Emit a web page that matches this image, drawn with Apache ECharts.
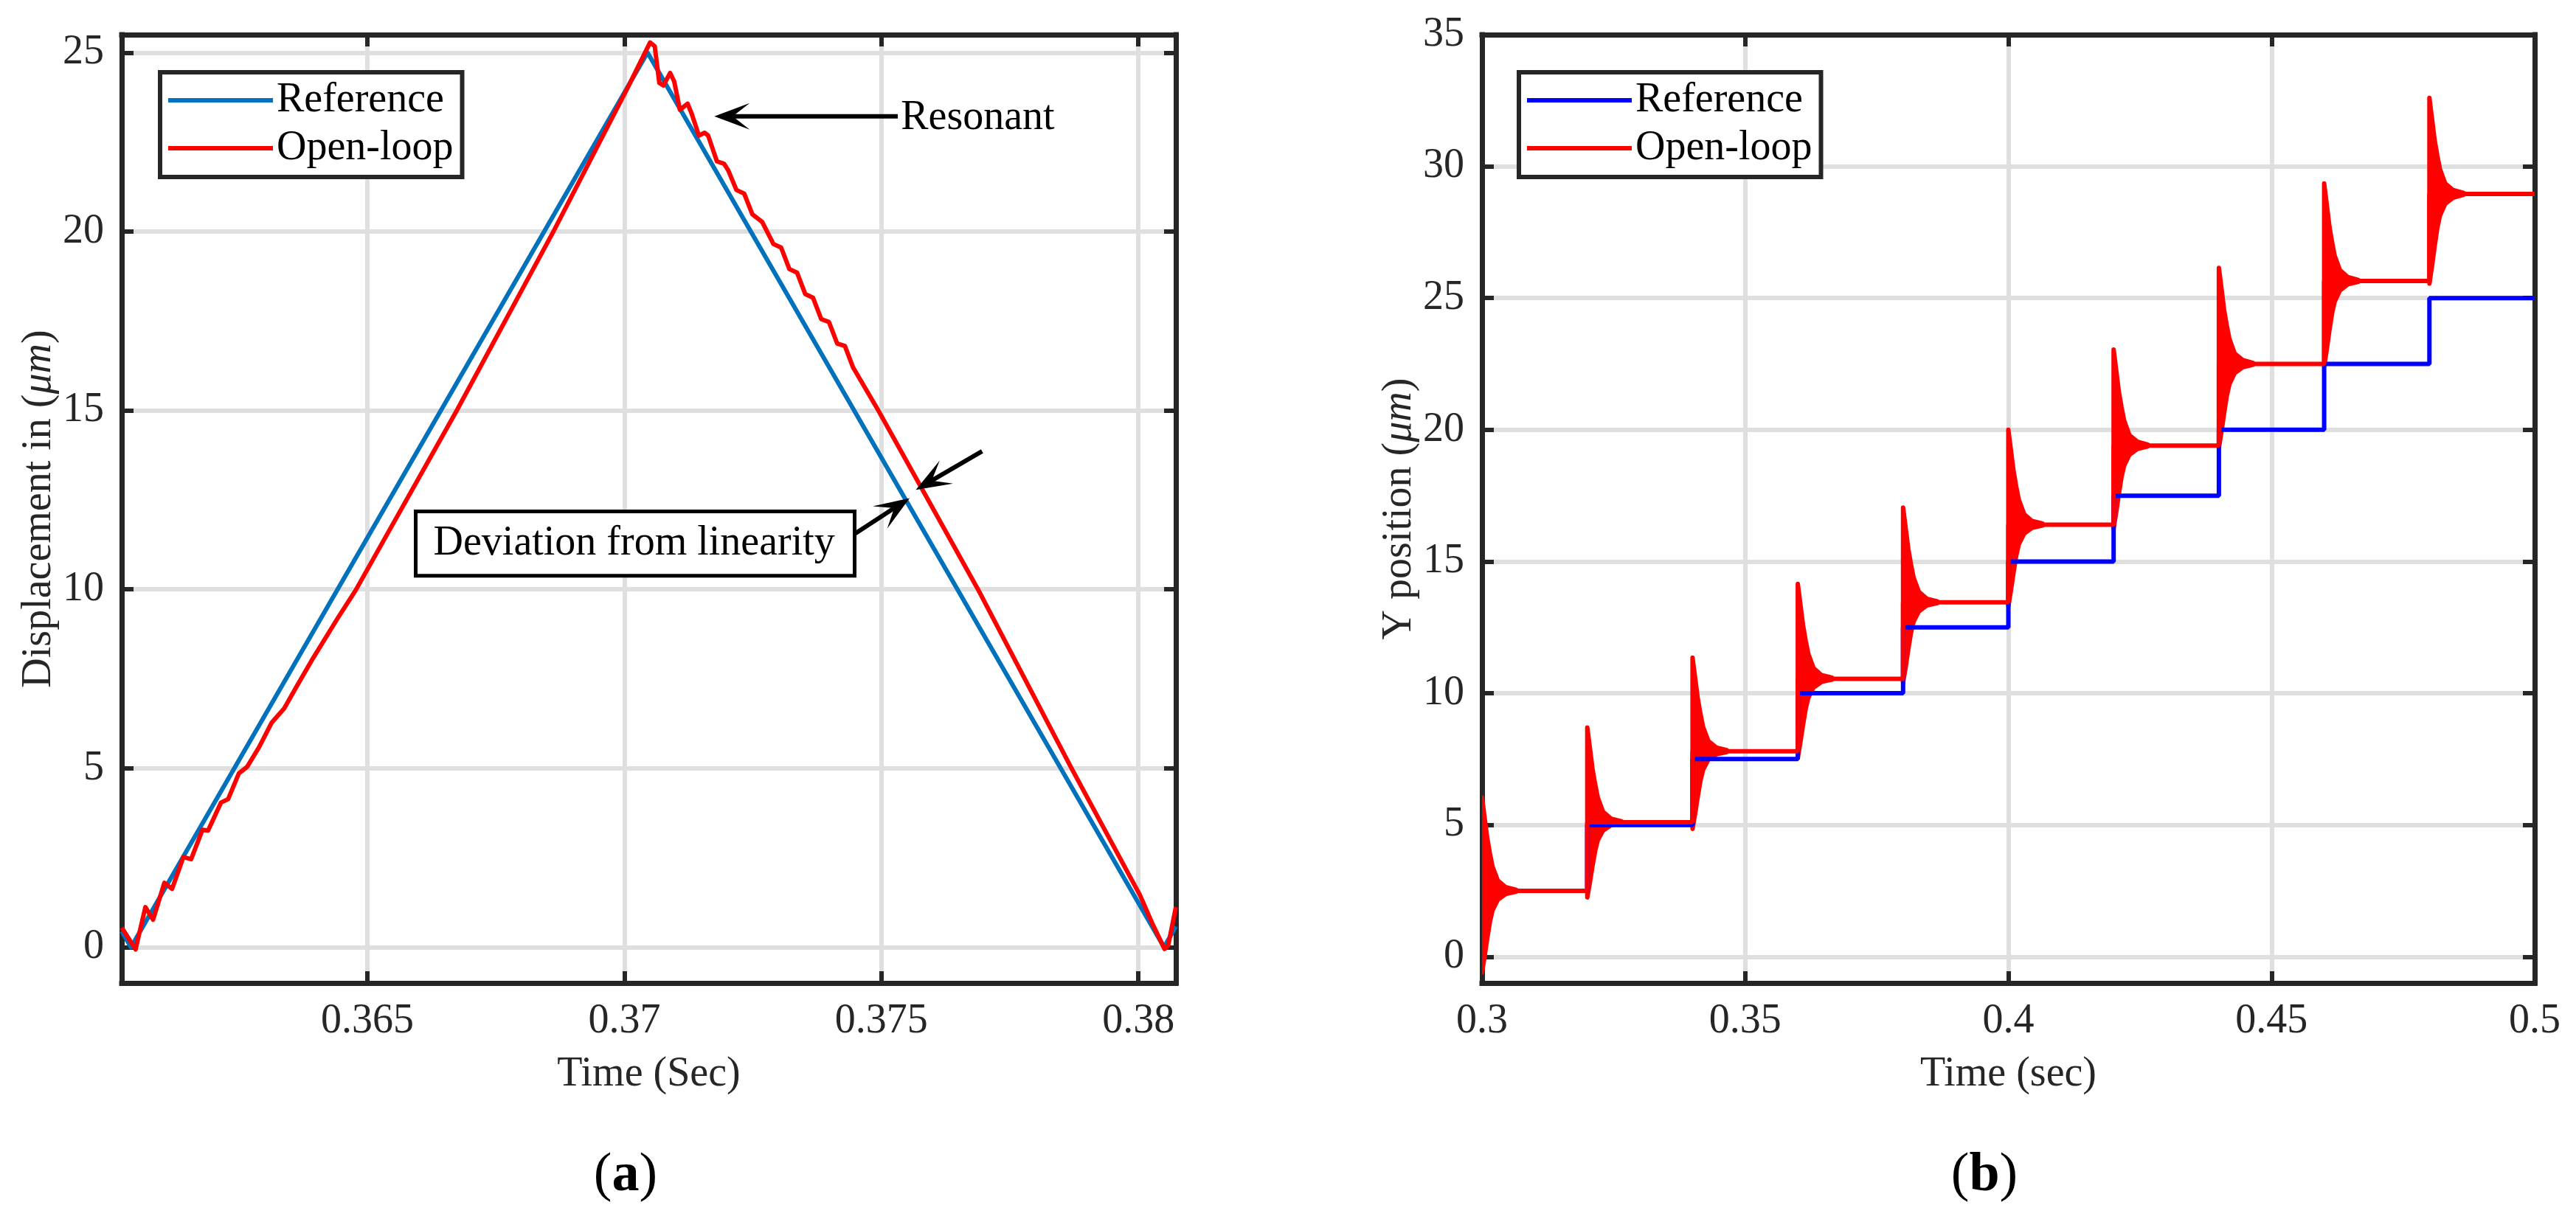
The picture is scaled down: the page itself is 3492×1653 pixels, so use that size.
<!DOCTYPE html>
<html>
<head>
<meta charset="utf-8">
<title>Reference vs open-loop</title>
<script src="https://cdn.jsdelivr.net/npm/echarts@6/dist/echarts.min.js"></script>
<style>
  html, body { margin: 0; padding: 0; background: #fff; }
  #chart { width: 3492px; height: 1653px; }
</style>
</head>
<body>
<div id="chart"></div>
<script>
const serif = '"Liberation Serif", "Times New Roman", serif';
const ink = '#262626';
const red = '#FF0000';

// (a) triangular scan
const refTimeA = [0.36022, 0.36040, 0.37045, 0.38050, 0.38073];
const refDispA = [0.45, 0, 25, 0, 0.58];
const olTimeA = [
  0.36022, 0.36049, 0.36068, 0.36083, 0.36105, 0.36120, 0.36142, 0.36157, 0.36179, 0.36190,
  0.36215, 0.36229, 0.36250, 0.36266, 0.36290, 0.36314, 0.36338, 0.36362, 0.36394, 0.36442,
  0.36477, 0.36674, 0.36862, 0.37005, 0.37050, 0.37059, 0.37068, 0.37076, 0.37089, 0.37097,
  0.37108, 0.37123, 0.37131, 0.37145, 0.37156, 0.37163, 0.37180, 0.37194, 0.37202, 0.37218,
  0.37233, 0.37249, 0.37268, 0.37290, 0.37305, 0.37321, 0.37336, 0.37352, 0.37367, 0.37383,
  0.37398, 0.37414, 0.37429, 0.37445, 0.37494, 0.37688, 0.37870, 0.38003, 0.38027, 0.38051,
  0.38058, 0.38073
];
const olDispA = [
  0.55, -0.06, 1.12, 0.77, 1.80, 1.63, 2.52, 2.46, 3.28, 3.26,
  4.04, 4.14, 4.86, 5.04, 5.61, 6.28, 6.67, 7.28, 8.07, 9.19,
  9.97, 15.0, 20.0, 23.98, 25.28, 25.18, 24.15, 24.08, 24.43, 24.19,
  23.40, 23.57, 23.29, 22.68, 22.76, 22.68, 21.96, 21.89, 21.71, 21.16,
  21.06, 20.48, 20.27, 19.65, 19.55, 18.95, 18.85, 18.25, 18.15, 17.55,
  17.47, 16.87, 16.80, 16.20, 15.0, 10.0, 5.0, 1.46, 0.67, -0.05,
  0.05, 1.12
];
const xTicksA = [0.365, 0.37, 0.375, 0.38];
const yTicksA = [0, 5, 10, 15, 20, 25];

// (b) staircase
const stepTimesB = [0.30, 0.32, 0.34, 0.36, 0.38, 0.40, 0.42, 0.44, 0.46, 0.48];
const refLevelsB = [2.5, 5, 7.5, 10, 12.5, 15, 17.5, 20, 22.5, 25];
const olLevelsB = [2.5, 5.1, 7.8, 10.55, 13.45, 16.4, 19.4, 22.5, 25.65, 28.95];
// ringing envelope after every step, at these delays (s)
const ringDelayB = [0, 0.0005, 0.001, 0.0015, 0.002, 0.003, 0.0045, 0.0065];
const ringUpperB = [
  [6.05, 5.27, 4.49, 3.92, 3.42, 2.89, 2.64, 2.54],
  [8.70, 7.91, 7.12, 6.54, 6.04, 5.50, 5.24, 5.14],
  [11.35, 10.57, 9.79, 9.22, 8.72, 8.19, 7.94, 7.84],
  [14.15, 13.36, 12.57, 11.99, 11.49, 10.95, 10.69, 10.59],
  [17.05, 16.26, 15.47, 14.89, 14.39, 13.85, 13.59, 13.49],
  [20.00, 19.21, 18.42, 17.84, 17.34, 16.80, 16.54, 16.44],
  [23.05, 22.25, 21.44, 20.86, 20.35, 19.80, 19.55, 19.44],
  [26.15, 25.35, 24.54, 23.96, 23.45, 22.90, 22.65, 22.54],
  [29.35, 28.54, 27.72, 27.13, 26.61, 26.06, 25.80, 25.69],
  [32.60, 31.80, 30.99, 30.41, 29.90, 29.35, 29.10, 28.99]
];
const ringLowerB = [
  [-0.60, 0.02, 0.70, 1.32, 1.76, 2.16, 2.38, 2.47],
  [2.25, 2.82, 3.45, 4.02, 4.42, 4.79, 4.99, 5.07],
  [4.85, 5.44, 6.09, 6.68, 7.09, 7.48, 7.68, 7.77],
  [7.55, 8.15, 8.81, 9.41, 9.83, 10.22, 10.43, 10.52],
  [10.40, 11.01, 11.68, 12.29, 12.72, 13.11, 13.33, 13.42],
  [13.30, 13.92, 14.60, 15.22, 15.66, 16.06, 16.28, 16.37],
  [16.25, 16.88, 17.57, 18.20, 18.64, 19.05, 19.27, 19.37],
  [19.30, 19.94, 20.64, 21.28, 21.73, 22.15, 22.37, 22.47],
  [22.40, 23.05, 23.77, 24.42, 24.87, 25.29, 25.52, 25.62],
  [25.55, 26.23, 26.98, 27.66, 28.13, 28.58, 28.81, 28.92]
];
const endTimeB = 0.5;
const xTicksB = [0.3, 0.35, 0.4, 0.45, 0.5];
const yTicksB = [0, 5, 10, 15, 20, 25, 30, 35];

// annotation anchors of panel (a), in data units
const annoA = {
  resonantTail: [0.37532, 23.22],
  resonantTip: [0.37175, 23.22],
  resonantText: [0.37538, 23.16],
  boxTopLeft: [0.36594, 12.18],
  boxBottomRight: [0.37448, 10.38],
  refArrow: [[0.37448, 11.55], [0.37555, 12.55]],
  olArrow: [[0.37696, 13.86], [0.37567, 12.78]]
};

const zip = (xs, ys) => xs.map((x, i) => [x, ys[i]]);
function stairs(levels) {
  const pts = [];
  stepTimesB.forEach((t, k) => {
    const next = k + 1 < stepTimesB.length ? stepTimesB[k + 1] : endTimeB;
    pts.push([t, levels[k]], [next, levels[k]]);
  });
  return pts;
}

const fmt = v => String(parseFloat((+v).toFixed(4)));
const tickStyle = { color: ink, width: 6 };

function mainX(gi, min, max, ticks, name) {
  return {
    type: 'value', gridIndex: gi, position: 'bottom', min: min, max: max,
    name: name, nameLocation: 'middle', nameGap: 96,
    nameTextStyle: { fontFamily: serif, fontSize: 56, color: ink },
    axisLine: { show: true, onZero: false, lineStyle: { color: ink, width: 7, cap: 'square' } },
    axisTick: { inside: true, length: 16, customValues: ticks, lineStyle: tickStyle },
    axisLabel: { customValues: ticks, margin: 24, formatter: fmt, fontFamily: serif, fontSize: 56, color: ink },
    splitLine: { show: true, lineStyle: { color: '#DFDFDF', width: 6 } }
  };
}
function boxX(gi, min, max, ticks) {
  return {
    type: 'value', gridIndex: gi, position: 'top', min: min, max: max,
    axisLine: { show: true, onZero: false, lineStyle: { color: ink, width: 7, cap: 'square' } },
    axisTick: { inside: true, length: 16, customValues: ticks, lineStyle: tickStyle },
    axisLabel: { show: false },
    splitLine: { show: false }
  };
}
function mainY(gi, min, max, ticks, label) {
  return {
    type: 'value', gridIndex: gi, position: 'left', min: min, max: max,
    name: '{n|' + label + ' (}{i|\u03bcm}{n|)}', nameLocation: 'middle', nameGap: 80,
    nameTextStyle: {
      color: ink,
      rich: {
        n: { fontFamily: serif, fontSize: 56, color: ink },
        i: { fontFamily: serif, fontSize: 56, fontStyle: 'italic', color: ink }
      }
    },
    axisLine: { show: true, onZero: false, lineStyle: { color: ink, width: 7, cap: 'square' } },
    axisTick: { inside: true, length: 16, customValues: ticks, lineStyle: tickStyle },
    axisLabel: { customValues: ticks, margin: 24, formatter: fmt, fontFamily: serif, fontSize: 56, color: ink },
    splitLine: { show: true, lineStyle: { color: '#DFDFDF', width: 6 } }
  };
}
function boxY(gi, min, max, ticks) {
  return {
    type: 'value', gridIndex: gi, position: 'right', min: min, max: max,
    axisLine: { show: true, onZero: false, lineStyle: { color: ink, width: 7, cap: 'square' } },
    axisTick: { inside: true, length: 16, customValues: ticks, lineStyle: tickStyle },
    axisLabel: { show: false },
    splitLine: { show: false }
  };
}
function legendAt(left, refColor) {
  return {
    left: left, top: 98, orient: 'vertical', selectedMode: false,
    icon: 'rect', itemWidth: 142, itemHeight: 6, itemGap: 9,
    padding: [10, 12, 11, 11],
    borderColor: ink, borderWidth: 6, backgroundColor: '#fff',
    textStyle: { fontFamily: serif, fontSize: 56, color: '#000' },
    data: [
      { name: 'Reference', icon: 'rect', itemStyle: { color: refColor, borderWidth: 0 } },
      { name: 'Open-loop', icon: 'rect', itemStyle: { color: red, borderWidth: 0 } }
    ]
  };
}
function caption(letter, x) {
  return {
    type: 'text',
    style: {
      text: '{p|(}{b|' + letter + '}{p|)}', x: x, y: 1595, align: 'center', verticalAlign: 'middle',
      rich: {
        p: { fontFamily: serif, fontSize: 74, fill: '#000' },
        b: { fontFamily: serif, fontSize: 74, fontWeight: 'bold', fill: '#000' }
      }
    }
  };
}
const lineOpts = { type: 'line', symbol: 'none', animation: false, clip: true };

const chart = echarts.init(document.getElementById('chart'), null, { renderer: 'canvas' });
const option = {
  backgroundColor: '#fff',
  animation: false,
  grid: [
    { left: 165, top: 47, width: 1429, height: 1286 },
    { left: 2009, top: 47, width: 1427, height: 1286 }
  ],
  xAxis: [
    mainX(0, 0.36022, 0.38073, xTicksA, 'Time (Sec)'),
    boxX(0, 0.36022, 0.38073, xTicksA),
    mainX(1, 0.3, 0.5, xTicksB, 'Time (sec)'),
    boxX(1, 0.3, 0.5, xTicksB)
  ],
  yAxis: [
    mainY(0, -1, 25.5, yTicksA, 'Displacement in'),
    boxY(0, -1, 25.5, yTicksA),
    mainY(1, -1, 35, yTicksB, 'Y position'),
    boxY(1, -1, 35, yTicksB)
  ],
  legend: [legendAt(217, '#0072BD'), legendAt(2059, '#0000FF')],
  series: [
    Object.assign({}, lineOpts, {
      name: 'Reference', xAxisIndex: 0, yAxisIndex: 0, color: '#0072BD',
      lineStyle: { width: 6, color: '#0072BD', join: 'round' },
      data: zip(refTimeA, refDispA)
    }),
    Object.assign({}, lineOpts, {
      name: 'Open-loop', xAxisIndex: 0, yAxisIndex: 0, color: red,
      lineStyle: { width: 6, color: red, join: 'round' },
      data: zip(olTimeA, olDispA)
    }),
    Object.assign({}, lineOpts, {
      name: 'Reference', xAxisIndex: 2, yAxisIndex: 2, color: '#0000FF',
      lineStyle: { width: 6, color: '#0000FF' },
      data: stairs(refLevelsB)
    }),
    Object.assign({}, lineOpts, {
      name: 'Open-loop', xAxisIndex: 2, yAxisIndex: 2, color: red,
      lineStyle: { width: 6, color: red },
      data: stairs(olLevelsB)
    }),
    {
      name: 'Open-loop', type: 'custom', xAxisIndex: 2, yAxisIndex: 2, clip: true,
      animation: false, color: red,
      data: stepTimesB.map((t, k) => [t, olLevelsB[k]]),
      encode: { x: 0, y: 1 },
      renderItem: function (params, api) {
        const k = params.dataIndex;
        const t0 = api.value(0);
        const pts = [];
        for (let i = 0; i < ringDelayB.length; i++) {
          pts.push(api.coord([t0 + ringDelayB[i], ringUpperB[k][i]]));
        }
        for (let i = ringDelayB.length - 1; i >= 0; i--) {
          pts.push(api.coord([t0 + ringDelayB[i], ringLowerB[k][i]]));
        }
        return {
          type: 'polygon',
          shape: { points: pts },
          style: { fill: red, stroke: red, lineWidth: 6, lineJoin: 'round' }
        };
      }
    }
  ]
};
chart.setOption(option);

// annotations of panel (a), placed through the axes of grid 0
const toPx = p => chart.convertToPixel({ xAxisIndex: 0, yAxisIndex: 0 }, p);
function arrow(tail, tip) {
  const s = toPx(tail), e = toPx(tip);
  const dx = e[0] - s[0], dy = e[1] - s[1];
  const len = Math.hypot(dx, dy);
  const ux = dx / len, uy = dy / len, nx = -uy, ny = ux;
  const L = 48, W = 18, notch = 25;
  return [
    {
      type: 'line',
      shape: { x1: s[0], y1: s[1], x2: e[0] - notch * ux, y2: e[1] - notch * uy },
      style: { stroke: '#000', lineWidth: 6 }, z: 50
    },
    {
      type: 'polygon',
      shape: { points: [
        e,
        [e[0] - L * ux + W * nx, e[1] - L * uy + W * ny],
        [e[0] - notch * ux, e[1] - notch * uy],
        [e[0] - L * ux - W * nx, e[1] - L * uy - W * ny]
      ] },
      style: { fill: '#000' }, z: 50
    }
  ];
}
const tl = toPx(annoA.boxTopLeft), br = toPx(annoA.boxBottomRight);
const txt = toPx(annoA.resonantText);
const notes = [].concat(
  arrow(annoA.resonantTail, annoA.resonantTip),
  arrow(annoA.refArrow[0], annoA.refArrow[1]),
  arrow(annoA.olArrow[0], annoA.olArrow[1]),
  [
    {
      type: 'text', z: 50,
      style: { text: 'Resonant', x: txt[0], y: txt[1], align: 'left', verticalAlign: 'middle',
               fontFamily: serif, fontSize: 56, fill: '#000' }
    },
    {
      type: 'rect', z: 50,
      shape: { x: tl[0], y: tl[1], width: br[0] - tl[0], height: br[1] - tl[1] },
      style: { fill: '#fff', stroke: '#000', lineWidth: 5 }
    },
    {
      type: 'text', z: 51,
      style: { text: 'Deviation from linearity', x: tl[0] + 24, y: (tl[1] + br[1]) / 2,
               align: 'left', verticalAlign: 'middle', fontFamily: serif, fontSize: 56, fill: '#000' }
    },
    caption('a', 848),
    caption('b', 2690)
  ]
);
chart.setOption({ graphic: notes });
</script>
</body>
</html>
